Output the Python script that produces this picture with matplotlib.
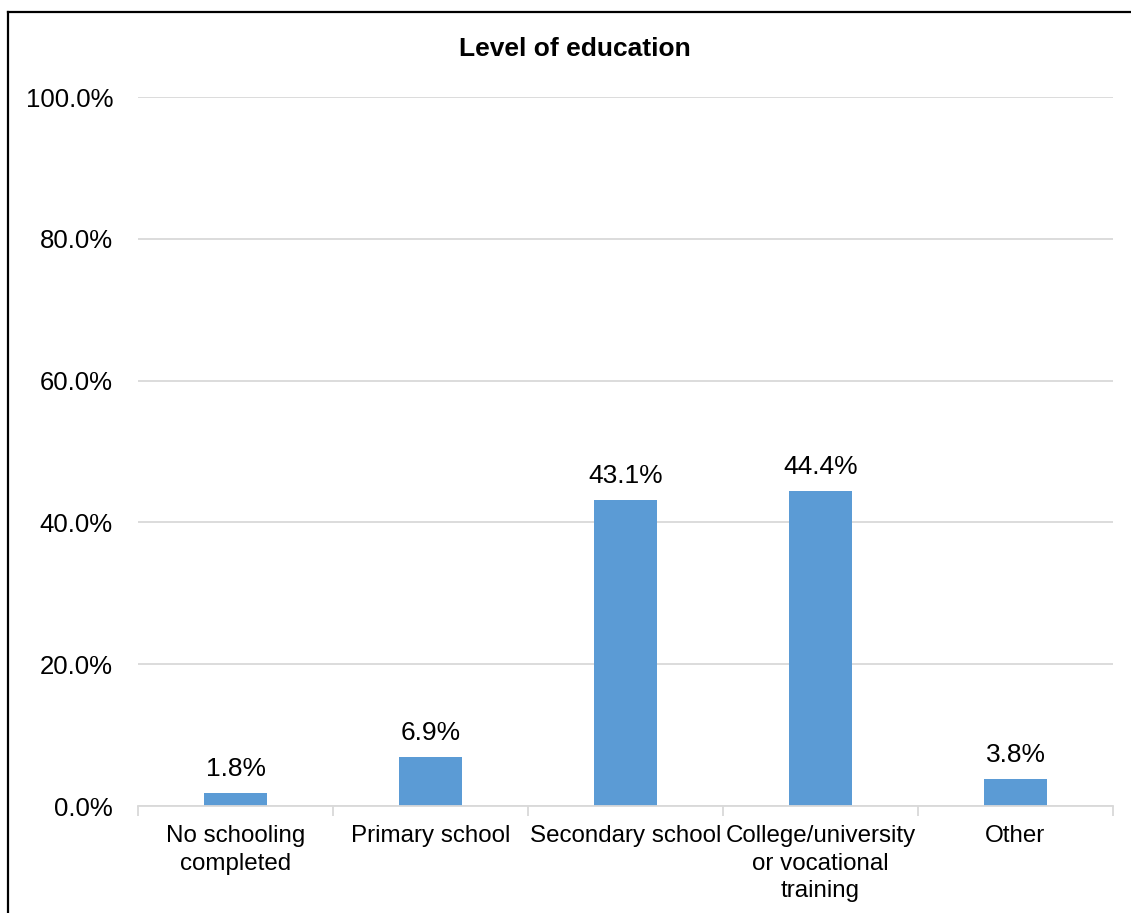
import matplotlib
matplotlib.use("Agg")
import matplotlib.pyplot as plt
from matplotlib.lines import Line2D
from matplotlib.ticker import FuncFormatter, FixedLocator

plt.rcParams['font.family'] = ['Liberation Sans', 'DejaVu Sans']

categories = ["No schooling\ncompleted", "Primary school", "Secondary school",
              "College/university\nor vocational\ntraining", "Other"]
shares = [1.8, 6.9, 43.1, 44.4, 3.8]
yticks = [0, 20, 40, 60, 80, 100]
title = "Level of education"

W, H = 1131, 913
fig = plt.figure(figsize=(W / 100, H / 100), dpi=100)
ax = fig.add_axes([138 / W, (H - 806) / H, (1113 - 138) / W, (806 - 97) / H])

x = list(range(len(categories)))
bar_color = "#5B9BD5"
ax.bar(x, shares, width=0.32, color=bar_color, zorder=3)

for xi, v in zip(x, shares):
    ax.annotate(f"{v:.1f}%", (xi, v), xytext=(0, 9), textcoords="offset points",
                ha="center", va="bottom", fontsize=19, color="#000000")

ax.set_xlim(-0.5, len(categories) - 0.5)
ax.set_ylim(0, 100)
ax.set_yticks(yticks)
ax.yaxis.set_major_formatter(FuncFormatter(lambda v, p: f"{v:.1f}%"))
ax.yaxis.grid(True, color="#d9d9d9", linewidth=1.3, zorder=0)
ax.tick_params(axis="y", length=0, pad=18, labelsize=18.5)

ax.set_xticks(x)
ax.set_xticklabels(categories, fontsize=17.4, linespacing=1.32)
ax.xaxis.set_minor_locator(FixedLocator([i - 0.5 for i in range(len(categories) + 1)]))
ax.tick_params(axis="x", which="major", length=0, pad=14)
ax.tick_params(axis="x", which="minor", length=7, width=1.3, color="#d9d9d9")

for side in ("top", "right", "left"):
    ax.spines[side].set_visible(False)
ax.spines["bottom"].set_color("#d9d9d9")
ax.spines["bottom"].set_linewidth(1.3)
ax.spines["bottom"].set_zorder(4)

fig.text(575 / W, 1 - 49 / H, title, ha="center", va="center",
         fontsize=19, fontweight="bold")

# outer frame (left and top edges visible)
fig.add_artist(Line2D([7.5 / W, 7.5 / W], [1 - 12.5 / H, -0.05], transform=fig.transFigure,
                      color="black", linewidth=1.6))
fig.add_artist(Line2D([7.5 / W, 1.05], [1 - 12.5 / H, 1 - 12.5 / H], transform=fig.transFigure,
                      color="black", linewidth=1.6))

fig.savefig("out.png", dpi=100, facecolor="white")
